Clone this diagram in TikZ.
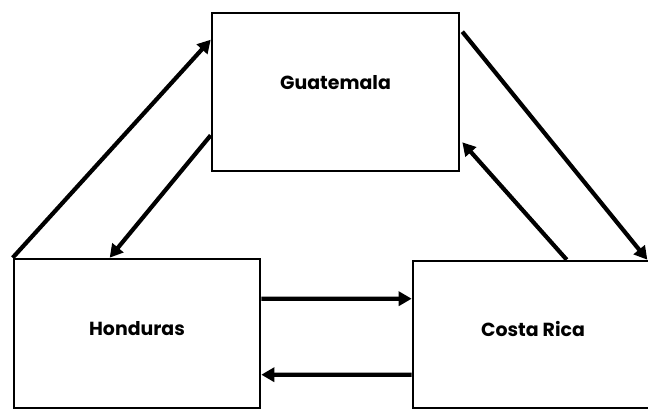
\documentclass[tikz,border=0pt]{standalone}
\usepackage{fontspec}
\newfontfamily\lblfont{Poppins}
\usetikzlibrary{arrows.meta,calc}
\begin{document}
\begin{tikzpicture}[x=1bp,y=-1bp,
  country/.style={draw,line width=2.6bp,inner sep=0pt,font=\lblfont\bfseries\fontsize{19}{22}\selectfont},
  flow/.style={line width=4.2bp,-{Triangle[length=13bp,width=14bp]}}]
\useasboundingbox (0,0) rectangle (648,410);
\node[country,minimum width=247bp,minimum height=158bp,text depth=20bp] (G) at (335.5,92) {Guatemala};
\node[country,minimum width=246bp,minimum height=149bp,text depth=10bp] (H) at (137,333.5) {Honduras};
\node[country,minimum width=240bp,minimum height=147bp,text depth=12bp] (C) at (533,334.5) {Costa Rica};
\draw[flow] (H.north west) -- ($(G.north west)+(0,28)$);
\draw[flow] ($(G.south west)+(0,-37)$) -- ($(H.north west)+(97,0)$);
\draw[flow] ($(G.north east)+(2,20)$) -- ($(C.north east)+(-7,0)$);
\draw[flow] ($(C.north west)+(155,0)$) -- ($(G.south east)+(2,-30)$);
\draw[flow] ($(H.north east)+(0,41)$) -- ($(C.north west)+(0,39)$);
\draw[flow] ($(C.north west)+(0,115)$) -- ($(H.north east)+(0,117)$);
\end{tikzpicture}
\end{document}
